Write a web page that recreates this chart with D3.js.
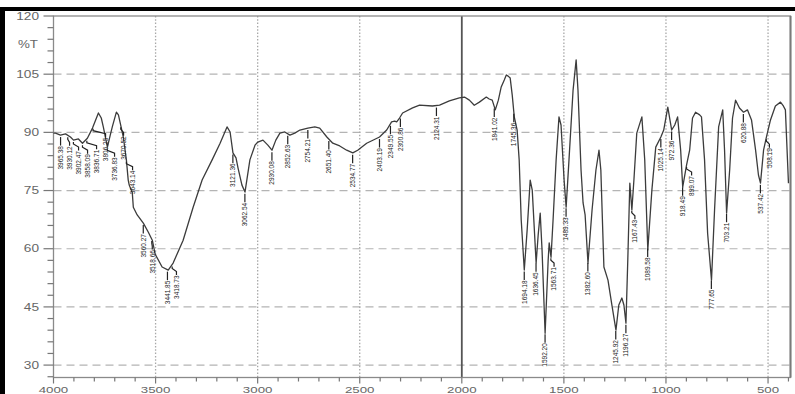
<!DOCTYPE html>
<html>
<head>
<meta charset="utf-8">
<script src="https://cdn.jsdelivr.net/npm/d3@7"></script>
<style>
  html, body { margin: 0; padding: 0; background: #fff; }
  svg { display: block; }
</style>
</head>
<body>
<svg id="chart" width="795" height="394"></svg>
<script>
// FT-IR spectrum: wavenumber (cm-1) vs transmittance (%T)
const wavenumber = [
  4000, 3990, 3966, 3941, 3917, 3902, 3878, 3858, 3834, 3809, 3780, 3766, 3756, 3736, 3722, 3712,
  3692, 3682, 3673, 3658, 3643, 3634, 3629, 3614, 3609, 3590, 3560, 3536, 3516, 3502, 3468, 3438,
  3414, 3365, 3316, 3272, 3223, 3184, 3150, 3135, 3121, 3106, 3096, 3077, 3062, 3038, 3013, 2999,
  2974, 2950, 2930, 2911, 2891, 2867, 2842, 2818, 2793, 2754, 2720, 2696, 2661, 2632, 2598, 2564,
  2534, 2510, 2466, 2403, 2368, 2344, 2329, 2319, 2305, 2290, 2241, 2207, 2144, 2109, 2061, 2012,
  1987, 1963, 1939, 1914, 1880, 1866, 1851, 1836, 1821, 1807, 1792, 1782, 1773, 1763, 1753, 1743,
  1729, 1719, 1709, 1694, 1680, 1665, 1655, 1636, 1626, 1616, 1607, 1592, 1577, 1572, 1563, 1553,
  1538, 1524, 1514, 1499, 1489, 1475, 1455, 1440, 1431, 1416, 1406, 1396, 1382, 1362, 1343, 1328,
  1319, 1304, 1284, 1265, 1245, 1231, 1216, 1206, 1196, 1187, 1177, 1167, 1157, 1143, 1118, 1104,
  1089, 1069, 1050, 1025, 1011, 991, 972, 957, 943, 928, 918, 899, 884, 870, 855, 835,
  826, 811, 796, 777, 762, 742, 722, 713, 703, 688, 674, 659, 640, 620, 601, 581,
  561, 547, 537, 522, 508, 488, 464, 439, 425, 415, 400
];
const transmittance = [
  89.8, 89.8, 89.3, 89.6, 88.8, 88.0, 88.3, 87.2, 88.5, 91.1, 95.0, 93.7, 91.4, 86.2, 89.3, 91.4,
  95.2, 94.5, 92.4, 88.8, 82.9, 77.7, 76.4, 74.4, 70.7, 68.7, 66.6, 64.3, 62.2, 58.6, 55.3, 54.5,
  56.3, 62.2, 70.7, 77.7, 82.9, 87.2, 91.4, 90.1, 84.7, 83.4, 80.8, 76.4, 74.6, 82.9, 86.7, 87.5,
  88.0, 86.7, 85.4, 88.0, 89.8, 90.1, 89.3, 89.8, 90.6, 91.1, 91.4, 91.1, 88.8, 87.2, 86.5, 85.4,
  84.7, 85.4, 87.2, 88.8, 90.6, 92.7, 92.9, 92.7, 93.7, 95.0, 96.3, 97.0, 96.8, 97.0, 98.1, 98.9,
  99.1, 98.3, 97.0, 97.8, 99.1, 98.6, 98.3, 95.8, 98.3, 101.7, 103.5, 104.8, 104.5, 104.0, 99.6, 94.0,
  90.6, 82.9, 67.4, 54.5, 64.8, 77.7, 75.1, 56.3, 63.5, 69.2, 59.7, 38.2, 57.1, 61.5, 57.8, 67.4,
  82.9, 94.0, 91.9, 77.7, 70.7, 82.9, 100.9, 108.7, 100.9, 80.3, 71.8, 68.7, 56.3, 70.0, 80.3, 85.4,
  80.3, 55.3, 51.9, 45.5, 39.0, 45.5, 47.3, 45.5, 40.8, 57.1, 76.9, 70.0, 77.7, 89.8, 94.0, 82.9,
  59.7, 75.1, 86.2, 88.8, 90.6, 96.5, 90.6, 91.9, 94.0, 85.4, 75.9, 81.6, 85.4, 93.7, 95.2, 94.5,
  94.0, 82.9, 64.0, 51.9, 70.0, 91.4, 95.8, 85.4, 69.2, 80.3, 93.7, 98.3, 96.3, 95.2, 95.8, 93.2,
  85.4, 79.0, 76.9, 85.4, 88.8, 93.2, 96.8, 97.8, 96.8, 95.8, 76.9
];

// Wavenumbers of the annotated bands
const peakWavenumbers = [
  3965.38, 3930.12, 3902.47, 3858.09, 3836.71, 3806.25, 3736.83, 3670.52, 3643.14,
  3560.27, 3518.66, 3441.85, 3418.73,
  3121.36, 3062.54, 2930.08, 2852.63, 2754.21, 2651.40, 2534.77, 2403.19, 2349.55, 2300.86, 2124.31,
  1841.02, 1745.36, 1694.18, 1636.45, 1592.20, 1563.71, 1489.33, 1382.60, 1245.92, 1196.27,
  1167.43, 1089.58, 1025.14, 972.36, 918.49, 899.07, 777.65, 703.21, 620.88, 537.42, 508.19
];

const yTickLabels = [30, 45, 60, 75, 90, 105, 120];
const xTickLabels = [4000, 3500, 3000, 2500, 2000, 1500, 1000, 500];
const yTitle = "%T";

const svg = d3.select("#chart");
const x = d3.scaleLinear().domain([4000, 390]).range([53.5, 790.5]);
const y = d3.scaleLinear().domain([26.8, 120]).range([377.5, 16]);
const [x0, x1] = x.range();
const [yb, yt] = y.range();

const labelFont = "'Liberation Sans', Arial, sans-serif";

// outer black border (left and top)
svg.append("rect").attr("x", 0).attr("y", 7).attr("width", 795).attr("height", 4).attr("fill", "#000");
svg.append("rect").attr("x", 0).attr("y", 7).attr("width", 5).attr("height", 387).attr("fill", "#000");

// horizontal dashed grid
svg.append("g").selectAll("line")
  .data(yTickLabels.filter(v => v < 120))
  .join("line")
  .attr("x1", x0).attr("x2", x1)
  .attr("y1", d => y(d)).attr("y2", d => y(d))
  .attr("stroke", "#b4b4b4").attr("stroke-width", 1.2)
  .attr("stroke-dasharray", "8,5");

// vertical dotted grid
svg.append("g").selectAll("line")
  .data(xTickLabels.filter(v => v !== 4000 && v !== 2000))
  .join("line")
  .attr("x1", d => x(d)).attr("x2", d => x(d))
  .attr("y1", yt).attr("y2", yb)
  .attr("stroke", "#a8a8a8").attr("stroke-width", 1.3)
  .attr("stroke-dasharray", "1.5,1.8");

// solid divider at 2000 cm-1
svg.append("line")
  .attr("x1", x(2000)).attr("x2", x(2000))
  .attr("y1", yt).attr("y2", yb)
  .attr("stroke", "#555").attr("stroke-width", 1.8);

// plot frame
svg.append("rect")
  .attr("x", x0).attr("y", yt)
  .attr("width", x1 - x0).attr("height", yb - yt)
  .attr("fill", "none").attr("stroke", "#8a8a8a").attr("stroke-width", 1.3);
svg.append("line")
  .attr("x1", x1).attr("x2", x1).attr("y1", yt).attr("y2", yb)
  .attr("stroke", "#7a7a7a").attr("stroke-width", 2);

// y axis ticks (outward)
const yTickVals = d3.range(27, 121, 3);
svg.append("g").selectAll("line")
  .data(yTickVals)
  .join("line")
  .attr("x1", d => x0 - (d % 15 === 0 ? 10 : 6)).attr("x2", x0)
  .attr("y1", d => y(d)).attr("y2", d => y(d))
  .attr("stroke", "#777").attr("stroke-width", 1.2);

// x axis ticks (downward)
const xTickVals = d3.range(400, 4001, 100);
svg.append("g").selectAll("line")
  .data(xTickVals)
  .join("line")
  .attr("x1", d => x(d)).attr("x2", d => x(d))
  .attr("y1", yb).attr("y2", d => yb + (d % 500 === 0 ? 6 : 4))
  .attr("stroke", "#777").attr("stroke-width", 1.2);

// tick labels (wide, grey)
svg.append("g").selectAll("text")
  .data(yTickLabels)
  .join("text")
  .attr("x", 39).attr("y", d => y(d))
  .attr("dy", "0.36em")
  .attr("text-anchor", "end")
  .attr("font-family", labelFont).attr("font-size", 10)
  .attr("fill", "#666")
  .attr("textLength", d => String(d).length * 7.6)
  .attr("lengthAdjust", "spacingAndGlyphs")
  .text(d => d);

svg.append("text")
  .attr("x", 38).attr("y", y(112.8))
  .attr("dy", "0.36em")
  .attr("text-anchor", "end")
  .attr("font-family", labelFont).attr("font-size", 10)
  .attr("fill", "#666")
  .attr("textLength", 20)
  .attr("lengthAdjust", "spacingAndGlyphs")
  .text(yTitle);

svg.append("g").selectAll("text")
  .data(xTickLabels)
  .join("text")
  .attr("x", d => x(d)).attr("y", 393)
  .attr("text-anchor", "middle")
  .attr("font-family", labelFont).attr("font-size", 9)
  .attr("fill", "#666")
  .attr("textLength", d => String(d).length * 7.4)
  .attr("lengthAdjust", "spacingAndGlyphs")
  .text(d => d);

// spectrum trace
const points = wavenumber.map((w, i) => [w, transmittance[i]]);
const line = d3.line().x(d => x(d[0])).y(d => y(d[1]));
svg.append("path")
  .datum(points)
  .attr("d", line)
  .attr("fill", "none")
  .attr("stroke", "#3c3c3c")
  .attr("stroke-width", 1.3)
  .attr("stroke-linejoin", "round");

// transmittance at any wavenumber (linear interpolation along the trace)
function tAt(w) {
  for (let i = 0; i < wavenumber.length - 1; i++) {
    const a = wavenumber[i], b = wavenumber[i + 1];
    if (w <= a && w >= b) {
      const f = (a - w) / (a - b);
      return transmittance[i] + f * (transmittance[i + 1] - transmittance[i]);
    }
  }
  return transmittance[transmittance.length - 1];
}

// band annotations: leader + rotated wavenumber, spread apart where crowded
const fmt = d3.format(".2f");
const minGap = 9;
const peaks = peakWavenumbers
  .map(w => ({ w, px: x(w), py: y(tAt(w)) }))
  .sort((a, b) => a.px - b.px);
peaks.forEach((p, i) => {
  p.lx = i === 0 ? p.px : Math.max(p.px, peaks[i - 1].lx + minGap);
  p.top = p.py + 11;
});

const ann = svg.append("g");
ann.selectAll("polyline")
  .data(peaks)
  .join("polyline")
  .attr("points", d => `${d.px},${d.py + 2} ${d.px},${d.py + 4} ${d.lx},${d.top - 4} ${d.lx},${d.top - 0.5}`)
  .attr("fill", "none")
  .attr("stroke", "#222")
  .attr("stroke-width", 1.2);

ann.selectAll("text")
  .data(peaks)
  .join("text")
  .attr("transform", d => `translate(${d.lx},${d.top}) rotate(-90)`)
  .attr("text-anchor", "end")
  .attr("dy", "0.35em")
  .attr("font-family", labelFont)
  .attr("font-size", 6.5)
  .attr("fill", "#222")
  .text(d => fmt(d.w));
</script>
</body>
</html>
